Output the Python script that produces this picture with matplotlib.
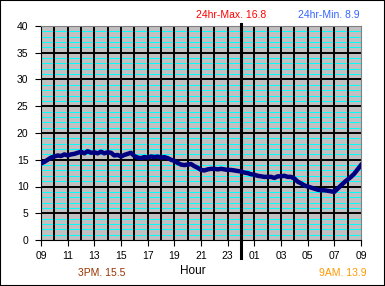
import numpy as np
import matplotlib
matplotlib.use("Agg")
import matplotlib.pyplot as plt
from matplotlib.patches import Rectangle

plt.rcParams['font.family'] = ['Liberation Sans', 'DejaVu Sans']

# Temperature readings every 15 minutes from 09:00 to 09:00 next day
temps = [14.3, 14.6, 15.0, 15.4, 15.6, 15.8, 15.7, 16.0,
         15.8, 16.0, 16.1, 16.3, 16.5, 16.2, 16.6, 16.3,
         16.4, 16.2, 16.5, 16.2, 16.4, 16.3, 15.8, 15.9,
         15.6, 15.9, 16.1, 16.3, 15.7, 15.4, 15.3, 15.5,
         15.4, 15.6, 15.5, 15.6, 15.4, 15.5, 15.3, 15.0,
         14.8, 14.4, 14.1, 14.0, 14.1, 14.2, 13.8, 13.5,
         13.1, 13.0, 13.2, 13.3, 13.3, 13.2, 13.3, 13.2,
         13.1, 13.1, 13.0, 12.9, 12.8, 12.6, 12.5, 12.3,
         12.2, 12.0, 11.9, 11.8, 11.8, 11.8, 11.6, 11.9,
         11.9, 12.0, 11.8, 11.8, 11.5, 10.9, 10.6, 10.2,
         10.0, 9.8, 9.6, 9.4, 9.3, 9.3, 9.2, 9.1,
         9.0, 9.6, 10.2, 10.8, 11.3, 11.8, 12.4, 13.2,
         14.0]
step_hours = 0.25
hours = np.arange(len(temps)) * step_hours

tick_labels = ["09", "11", "13", "15", "17", "19", "21", "23",
               "01", "03", "05", "07", "09"]
midnight_hour = 15

max_text = "24hr-Max. 16.8"
min_text = "24hr-Min. 8.9"
pm_text = "3PM. 15.5"
am_text = "9AM. 13.9"

fig = plt.figure(figsize=(3.85, 2.86), dpi=100)
fig.patch.set_facecolor('white')
ax = fig.add_axes([41/385, 46/286, 320/385, 214/286])
ax.set_facecolor('#C0C0C0')

ax.set_xlim(0, 24)
ax.set_ylim(0, 40)
ax.set_xticks(np.arange(0, 25, 2))
ax.set_xticklabels(tick_labels)
ax.set_yticks(np.arange(0, 41, 5))

# grid lines
for v in range(1, 40):
    if v % 5:
        ax.axhline(v, color='#00FFFF', lw=0.72, zorder=1)
for v in range(5, 40, 5):
    ax.axhline(v, color='black', lw=1.4, zorder=2)
for h in range(1, 24):
    ax.axvline(h, color='black', lw=1.4, zorder=2)

ax.tick_params(which='major', length=4, width=0.8, direction='out',
               labelsize=7.5, color='black')
ax.tick_params(axis='y', pad=5)
ax.tick_params(axis='x', pad=4)

for s in ['top', 'right']:
    ax.spines[s].set_color('#808080')
    ax.spines[s].set_linewidth(0.8)
for s in ['left', 'bottom']:
    ax.spines[s].set_color('black')
    ax.spines[s].set_linewidth(0.8)

ax.plot(hours, temps, color='#000080', lw=3.2, solid_joinstyle='round', zorder=5)

# midnight marker
ax.plot([midnight_hour, midnight_hour], [-3.4, 40.4], color='black', lw=2.2,
        clip_on=False, zorder=4)

fig.text(231/385, 1 - 15/286, max_text, color='#FF0000', fontsize=7.5,
         ha='center', va='center')
fig.text(360/385, 1 - 15/286, min_text, color='#3366FF', fontsize=7.5,
         ha='right', va='center')
fig.text(102/385, 1 - 273/286, pm_text, color='#993300', fontsize=7.5,
         ha='center', va='center')
fig.text(193/385, 1 - 271.5/286, "Hour", color='black', fontsize=8.5,
         ha='center', va='center')
fig.text(342.5/385, 1 - 273/286, am_text, color='#FF9900', fontsize=7.5,
         ha='center', va='center')

fig.patches.append(Rectangle((0, 0), 1, 1, transform=fig.transFigure,
                             fill=False, edgecolor='black', lw=1.5))

fig.savefig('out.png', dpi=100)
